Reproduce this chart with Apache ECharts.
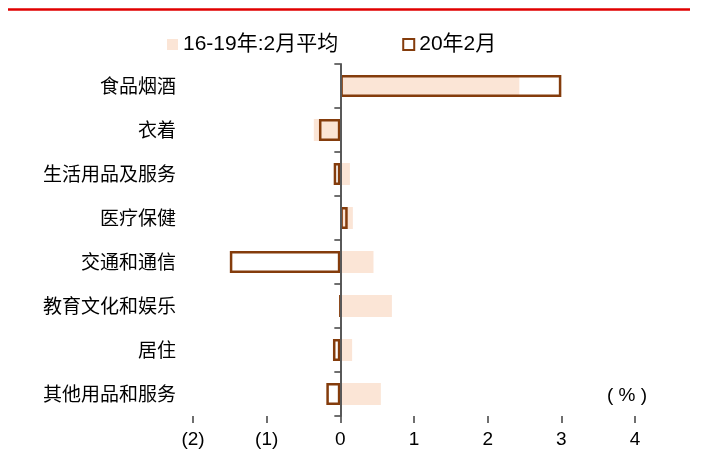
<!DOCTYPE html>
<html>
<head>
<meta charset="utf-8">
<script src="https://cdn.jsdelivr.net/npm/echarts@6/dist/echarts.min.js"></script>
<style>
  html, body { margin: 0; padding: 0; background: #fff; }
  #chart { width: 702px; height: 466px; }
</style>
</head>
<body>
<div id="chart"></div>
<script>
// CPI sub-items: February change (%), 2016-19 average vs 2020
const categories = ['食品烟酒', '衣着', '生活用品及服务', '医疗保健', '交通和通信', '教育文化和娱乐', '居住', '其他用品和服务'];
const avg1619 = [2.43, -0.36, 0.13, 0.17, 0.45, 0.70, 0.16, 0.55];
const feb2020 = [3.0, -0.29, -0.09, 0.10, -1.5, 0.0, -0.1, -0.19];
const seriesNames = ['16-19年:2月平均', '20年2月'];
const xTicks = { min: -2, max: 4, step: 1 };

const latin = 'Liberation Sans, Arial, "Noto Sans CJK SC", sans-serif';
const cjk = '"Noto Sans CJK SC", "Noto Sans CJK JP", sans-serif';

const chart = echarts.init(document.getElementById('chart'), null, { renderer: 'canvas' });

chart.setOption({
  animation: false,
  backgroundColor: '#ffffff',
  grid: { left: 193, right: 67, top: 64, bottom: 50, containLabel: false },
  legend: {
    top: 29,
    left: 162,
    icon: 'rect',
    itemWidth: 11,
    itemHeight: 11,
    itemGap: 64,
    textStyle: { fontFamily: latin, fontSize: 21, color: '#000', padding: [0, 0, 0, 0] },
    data: seriesNames
  },
  xAxis: {
    type: 'value',
    min: xTicks.min,
    max: xTicks.max,
    interval: xTicks.step,
    position: 'bottom',
    axisLine: { onZero: false, lineStyle: { color: '#404040', width: 1.5 } },
    axisTick: { show: true, length: 7, lineStyle: { color: '#404040', width: 1.5 } },
    axisLabel: {
      margin: 14,
      fontFamily: latin,
      fontSize: 19,
      color: '#000',
      formatter: v => v < 0 ? '(' + Math.abs(v) + ')' : String(v)
    },
    splitLine: { show: false }
  },
  yAxis: [
    {
      type: 'category',
      data: categories,
      inverse: true,
      position: 'left',
      axisLine: { show: false, onZero: false },
      axisTick: { show: false },
      axisLabel: { margin: 17, fontFamily: cjk, fontSize: 19, color: '#000' }
    },
    {
      type: 'category',
      data: categories,
      inverse: true,
      position: 'left',
      z: 10,
      axisLine: { show: true, onZero: true, lineStyle: { color: '#595959', width: 2 } },
      axisTick: { show: true, inside: false, length: 6, lineStyle: { color: '#404040', width: 1.5 } },
      axisLabel: { show: false }
    }
  ],
  series: [
    {
      name: seriesNames[0],
      type: 'bar',
      yAxisIndex: 0,
      data: avg1619,
      barWidth: 22,
      barGap: '-100%',
      itemStyle: { color: '#FBE5D6' },
      z: 1
    },
    {
      name: seriesNames[1],
      type: 'bar',
      yAxisIndex: 0,
      data: feb2020,
      barWidth: 22,
      barGap: '-100%',
      itemStyle: { color: 'rgba(255,255,255,0)', borderColor: '#843C0C', borderWidth: 2.5 },
      z: 3
    }
  ],
  graphic: [
    {
      type: 'line',
      shape: { x1: 8, y1: 9.5, x2: 690, y2: 9.5 },
      style: { stroke: '#E00000', lineWidth: 2.5 },
      silent: true
    },
    {
      type: 'text',
      x: 627,
      y: 396,
      style: {
        text: '( % )',
        fontFamily: latin,
        fontSize: 19,
        fill: '#000',
        align: 'center',
        verticalAlign: 'middle'
      }
    }
  ]
});
</script>
</body>
</html>
